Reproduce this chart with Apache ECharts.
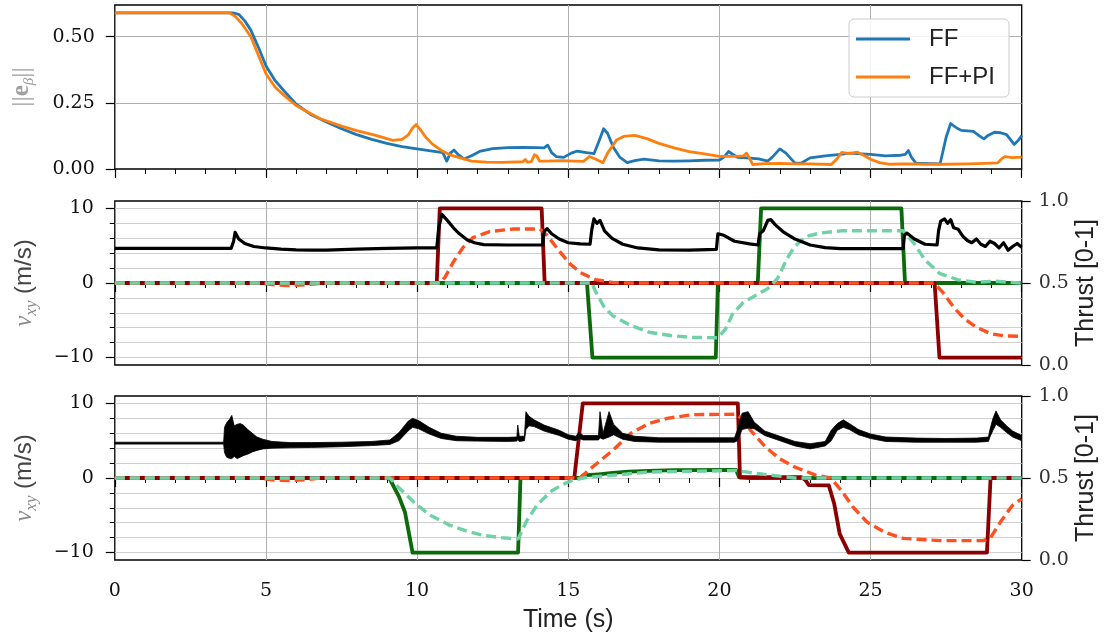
<!DOCTYPE html>
<html><head><meta charset="utf-8">
<script src="https://cdn.jsdelivr.net/npm/echarts@6/dist/echarts.min.js"></script>
<style>html,body{margin:0;padding:0;background:#fff}#c{width:1110px;height:641px}</style>
</head><body><div id="c"></div>
<script>
// ---------------- DATA ----------------
const xTicks = [0, 5, 10, 15, 20, 25, 30];
const topYTicks = [0, 0.25, 0.5];
const velTicks = [-10, 0, 10];
const thrustTicks = [0, 0.5, 1];
const legendNames = ['FF', 'FF+PI'];

// top panel ||e_beta||
const ffErr = [[0,0.59],[3.9,0.59],[4.1,0.585],[4.3,0.56],[4.5,0.525],[4.75,0.46],[5.0,0.39],[5.3,0.335],[5.6,0.295],[6.0,0.245],[6.5,0.205],[7.0,0.178],[7.5,0.152],[8.0,0.13],[8.5,0.112],[9.0,0.097],[9.5,0.085],[10.0,0.076],[10.5,0.068],[10.85,0.062],[10.98,0.03],[11.1,0.06],[11.22,0.072],[11.35,0.055],[11.55,0.038],[11.8,0.05],[12.1,0.068],[12.5,0.077],[13.0,0.081],[13.5,0.082],[14.0,0.081],[14.2,0.08],[14.32,0.09],[14.45,0.062],[14.6,0.047],[14.85,0.044],[15.1,0.06],[15.3,0.068],[15.6,0.062],[15.85,0.058],[16.0,0.1],[16.17,0.152],[16.3,0.135],[16.5,0.08],[16.7,0.045],[16.95,0.024],[17.2,0.032],[17.5,0.037],[18.0,0.031],[18.5,0.03],[19.0,0.031],[19.5,0.033],[20.0,0.034],[20.15,0.045],[20.3,0.066],[20.45,0.055],[20.6,0.044],[20.9,0.042],[21.3,0.038],[21.6,0.03],[21.75,0.045],[22.0,0.076],[22.2,0.06],[22.5,0.022],[22.7,0.022],[23.0,0.042],[23.5,0.05],[24.0,0.055],[24.3,0.06],[24.7,0.057],[25.0,0.055],[25.5,0.05],[26.0,0.052],[26.15,0.055],[26.25,0.07],[26.35,0.045],[26.5,0.022],[27.0,0.02],[27.3,0.019],[27.5,0.12],[27.65,0.172],[27.85,0.155],[28.0,0.146],[28.2,0.144],[28.4,0.142],[28.6,0.125],[28.75,0.114],[28.9,0.128],[29.1,0.139],[29.3,0.137],[29.5,0.13],[29.75,0.093],[29.9,0.11],[30.0,0.127]];
const ffpiErr = [[0,0.59],[3.8,0.59],[4.0,0.575],[4.2,0.55],[4.5,0.5],[4.75,0.43],[5.0,0.36],[5.3,0.31],[5.6,0.278],[6.0,0.24],[6.3,0.22],[6.8,0.19],[7.5,0.162],[8.0,0.145],[8.6,0.128],[9.2,0.108],[9.5,0.112],[9.7,0.128],[9.85,0.155],[9.97,0.168],[10.1,0.15],[10.3,0.118],[10.5,0.095],[10.8,0.07],[11.1,0.053],[11.4,0.043],[11.8,0.03],[12.3,0.026],[12.8,0.025],[13.3,0.027],[13.5,0.027],[13.58,0.036],[13.65,0.026],[13.78,0.028],[13.88,0.054],[13.95,0.05],[14.05,0.03],[14.3,0.03],[14.8,0.032],[15.2,0.03],[15.5,0.029],[15.7,0.047],[15.9,0.038],[16.15,0.024],[16.3,0.06],[16.45,0.085],[16.6,0.11],[16.83,0.123],[17.2,0.127],[17.6,0.115],[18.0,0.097],[18.5,0.08],[19.0,0.066],[19.5,0.057],[20.0,0.048],[20.5,0.048],[20.8,0.05],[20.9,0.06],[21.0,0.04],[21.1,0.017],[21.5,0.02],[22.0,0.021],[22.5,0.019],[23.0,0.019],[23.7,0.017],[23.9,0.04],[24.05,0.063],[24.3,0.058],[24.55,0.064],[24.8,0.05],[25.0,0.037],[25.3,0.024],[25.6,0.018],[26.2,0.019],[26.8,0.018],[27.5,0.018],[28.2,0.019],[28.8,0.021],[29.2,0.023],[29.35,0.04],[29.45,0.047],[29.7,0.043],[30.0,0.045]];

// middle panel
const midBlack = [[0,4.65],[3.85,4.65],[3.93,5.6],[3.98,6.8],[4.1,5.9],[4.3,5.3],[4.6,4.9],[5.0,4.7],[5.5,4.55],[6.0,4.45],[6.5,4.4],[7.0,4.4],[8.0,4.55],[9.0,4.65],[10.0,4.7],[10.65,4.7],[10.72,7.5],[10.82,9.2],[11.0,8.4],[11.2,7.4],[11.4,6.6],[11.65,5.8],[11.9,5.4],[12.2,5.15],[13.0,5.1],[14.16,5.1],[14.2,6.9],[14.3,7.3],[14.45,6.6],[14.7,5.9],[15.0,5.4],[15.4,5.25],[15.72,5.2],[15.78,7.2],[15.85,8.6],[15.95,8.0],[16.05,8.4],[16.2,7.0],[16.45,6.0],[16.8,5.2],[17.3,4.7],[18.0,4.45],[19.0,4.4],[19.9,4.5],[19.95,6.6],[20.15,6.4],[20.5,5.6],[21.0,5.25],[21.28,5.1],[21.33,6.6],[21.45,7.0],[21.6,8.4],[21.7,8.5],[21.85,7.8],[22.1,6.9],[22.5,5.9],[23.0,5.1],[23.5,4.75],[24.0,4.6],[25.0,4.6],[26.08,4.6],[26.12,6.4],[26.2,6.7],[26.45,5.9],[26.8,5.2],[27.2,5.1],[27.25,7.0],[27.32,8.3],[27.45,8.6],[27.55,8.0],[27.65,8.5],[27.75,7.4],[27.9,7.2],[28.05,6.3],[28.2,5.7],[28.35,5.4],[28.5,5.9],[28.65,5.2],[28.8,4.9],[28.95,5.6],[29.1,5.3],[29.25,4.7],[29.4,5.4],[29.55,4.4],[29.7,4.9],[29.85,5.3],[30.0,4.8]];
const midCmdX = [[0,0],[10.65,0],[10.75,10],[14.12,10],[14.22,0],[27.12,0],[27.28,-10],[30,-10]];
const midCmdY = [[0,0],[15.62,0],[15.8,-10],[19.88,-10],[19.95,0],[21.27,0],[21.38,10],[26.02,10],[26.14,0],[30,0]];
const midVelX = [[0,0],[4.8,0],[5.2,-0.2],[5.7,-0.35],[6.3,-0.25],[6.8,-0.05],[7.2,0],[10.75,0],[10.92,0.75],[11.19,2.76],[11.52,4.78],[11.85,6.1],[12.4,6.9],[13.18,7.25],[14.06,7.25],[14.3,6.4],[14.7,4.3],[15.05,2.6],[15.4,1.4],[15.9,0.45],[16.5,0.05],[17,0],[27.1,0],[27.4,-1.3],[27.76,-3.3],[28.12,-4.85],[28.49,-5.9],[28.97,-6.8],[29.45,-7.1],[30,-7.15]];
const midVelY = [[0,0],[15.8,0],[15.87,-0.9],[16.17,-3.1],[16.47,-4.4],[17.07,-5.7],[17.67,-6.6],[18.39,-7.05],[19.11,-7.3],[19.95,-7.35],[20.2,-6.2],[20.43,-4.2],[20.79,-2.6],[21.27,-1.5],[21.63,-0.66],[21.93,0.66],[22.24,3.3],[22.48,4.85],[22.84,6.2],[23.32,6.7],[24.04,7.0],[26.08,7.0],[26.44,5.3],[26.8,3.1],[27.28,1.3],[27.88,0.44],[28.49,0.1],[29.09,0.25],[29.6,0.1],[30,0]];

// bottom panel (black trace is noisy: [t, lower, upper])
const botBlackBand = [[0,4.55,4.8],[3.6,4.55,4.8],[3.63,3.4,6.8],[3.7,2.8,7.4],[3.8,2.6,7.9],[3.87,2.6,8.4],[3.95,2.9,7.0],[4.05,2.6,7.2],[4.15,2.8,7.3],[4.25,3.0,7.1],[4.4,3.2,6.5],[4.55,3.5,6.0],[4.7,3.7,5.5],[4.9,3.9,5.2],[5.2,4.0,4.9],[5.8,4.05,4.75],[6.5,4.1,4.75],[7.5,4.2,4.8],[8.5,4.35,4.9],[9.1,4.5,5.1],[9.4,5.0,6.1],[9.7,6.3,7.6],[9.85,6.8,8.0],[10.05,6.6,7.7],[10.4,5.9,6.8],[10.8,5.3,6.0],[11.3,5.0,5.6],[12.0,4.95,5.45],[13.0,4.9,5.45],[13.3,4.95,5.5],[13.33,5.2,7.1],[13.38,4.9,5.6],[13.55,5.0,5.6],[13.6,6.5,8.9],[13.7,7.0,8.3],[13.87,6.9,7.8],[14.2,6.3,7.1],[14.7,5.7,6.4],[15.0,5.2,5.8],[15.25,5.0,5.6],[15.35,5.3,6.1],[15.5,5.1,5.7],[16.0,5.1,5.7],[16.05,5.4,8.9],[16.15,5.2,6.0],[16.35,5.5,8.9],[16.5,5.8,7.2],[16.8,5.2,6.0],[17.2,4.9,5.6],[18,4.8,5.4],[19,4.8,5.4],[20.5,4.8,5.4],[20.6,5.0,6.5],[20.75,6.5,8.7],[20.95,6.7,8.9],[21.15,6.6,7.5],[21.5,5.7,6.3],[22.0,5.0,5.6],[22.5,4.3,4.9],[23.0,3.9,4.6],[23.5,4.3,4.9],[23.7,5.0,6.4],[23.9,6.4,7.3],[24.1,6.8,7.8],[24.3,6.5,7.3],[24.6,5.8,6.5],[25.0,5.3,5.9],[25.5,4.9,5.5],[26.5,4.8,5.35],[27.5,4.8,5.3],[28.5,4.8,5.35],[28.9,4.9,5.5],[28.95,5.5,6.5],[29.05,6.4,8.0],[29.15,7.2,9.0],[29.3,6.8,7.8],[29.5,6.1,7.0],[29.7,5.5,6.3],[30,5.0,5.7]];
const botCmdX = [[0,0],[15.2,0],[15.48,10],[20.61,10],[20.68,0.1],[22.72,0.1],[22.85,-0.3],[22.96,-0.95],[23.62,-1.0],[23.8,-3.5],[23.98,-7.5],[24.28,-10],[28.85,-10],[28.97,0],[30,0]];
const botCmdY = [[0,0],[9.08,0],[9.4,-2.5],[9.6,-4.6],[9.85,-10],[13.34,-10],[13.42,0],[15.4,0],[15.5,0.35],[16.0,0.5],[16.47,0.68],[17.0,0.85],[17.67,0.95],[18.5,1.05],[20.55,1.1],[20.65,0.1],[21,0],[30,0]];
const botVelX = [[0,0],[4.8,0],[5.2,-0.25],[5.8,-0.35],[6.4,-0.2],[6.8,0],[15.38,0],[15.87,1.7],[16.47,3.7],[17.07,6.0],[17.67,7.3],[18.27,8.0],[19.11,8.5],[20.55,8.55],[20.8,7.8],[21.03,6.4],[21.51,4.2],[21.99,2.6],[22.48,1.5],[23.2,0.36],[23.68,0],[24.04,-1.7],[24.4,-3.8],[24.88,-5.9],[25.48,-7.3],[26.08,-8.1],[27.28,-8.4],[28.73,-8.4],[28.97,-8.0],[29.33,-5.7],[29.69,-3.7],[30,-2.8]];
const botVelY = [[0,0],[9.1,0],[9.37,-1.2],[9.96,-3.5],[10.44,-5.0],[11.03,-6.25],[11.62,-7.1],[12.2,-7.7],[12.8,-8.0],[13.34,-8.2],[13.63,-5.7],[13.99,-3.5],[14.46,-1.7],[14.8,-0.9],[15.14,-0.3],[15.63,0.1],[16.47,0.36],[17.67,0.8],[20.55,1.0],[21.27,0.6],[22.48,0],[30,0]];

// ---------------- LAYOUT / STYLE ----------------
const SERIF = 'DejaVu Serif';
const SANS = 'Liberation Sans';
const TICKFS = 19;
const L = 114.8, W = 906.9, H = 164;
const TOPS = [5, 201, 396];
const C = {ff:'#1f77b4', ffpi:'#ff7f0e', red:'#8b0000', green:'#0b6b0b', orange:'#ff5020', lgreen:'#6fd1a6', black:'#000'};

const fmtMinus = v => (v < 0 ? '\u2212' + Math.abs(v) : String(v));

const grids = [];
TOPS.forEach(t => grids.push({left:L, width:W, top:t, height:H, show:true, borderColor:'#000', borderWidth:1.3, containLabel:false, outerBoundsMode:'none'}));
const topMaxVal = 0.62;
grids.push({left:L, width:W, top:TOPS[0] + H*(topMaxVal-0.5)/topMaxVal, height:H*0.5/topMaxVal, show:false, outerBoundsMode:'none'});
grids.push({left:L, width:W, top:TOPS[1] + H/22, height:H*20/22, show:false, outerBoundsMode:'none'});
grids.push({left:L, width:W, top:TOPS[2] + H/22, height:H*20/22, show:false, outerBoundsMode:'none'});

const tickStyle = {color:'#000', width:1.2};
const xAxes = [0,1,2].map(i => ({
  type:'value', gridIndex:i, min:xTicks[0], max:xTicks[xTicks.length-1], interval:xTicks[1]-xTicks[0],
  axisLine:{show:false},
  axisTick:{show:true, length:9, lineStyle:tickStyle},
  minorTick:{show:true, splitNumber:5, length:5, lineStyle:{color:'#000', width:1}},
  axisLabel:{show:i===2, margin:22, fontFamily:SERIF, fontSize:TICKFS, color:'#111'},
  splitLine:{show:true, showMinLine:false, showMaxLine:false, lineStyle:{color:'#b0b0b0', width:1}},
  name: i===2 ? 'Time (s)' : '', nameLocation:'middle', nameGap:48, nameMoveOverlap:false,
  nameTextStyle:{fontFamily:SANS, fontSize:25, color:'#222'}
}));
[3,4,5].forEach(i => xAxes.push({type:'value', gridIndex:i, min:0, max:30, show:false}));

const labelName = (name, rich, gap) => ({name, nameLocation:'middle', nameRotate:90, nameGap:gap, nameMoveOverlap:false, nameTextStyle:{rich}});
const velRich = {
  v:{fontFamily:'Liberation Serif', fontStyle:'italic', fontSize:25, color:'#8a8a8a', lineHeight:30, verticalAlign:'middle'},
  s:{fontFamily:'Liberation Serif', fontStyle:'italic', fontSize:17, color:'#8a8a8a', lineHeight:14, verticalAlign:'bottom'},
  u:{fontFamily:SANS, fontSize:24, color:'#444', lineHeight:30, verticalAlign:'middle'}
};
const errRich = {
  n:{fontFamily:'Liberation Serif', fontSize:26, color:'#a0a0a0', lineHeight:30, verticalAlign:'middle'},
  e:{fontFamily:'Liberation Serif', fontWeight:'bold', fontSize:25, color:'#a0a0a0', lineHeight:30, verticalAlign:'middle'},
  b:{fontFamily:'Liberation Serif', fontStyle:'italic', fontSize:15, color:'#a0a0a0', lineHeight:14, verticalAlign:'bottom'}
};
const hiddenMain = (gi, min, max, nameOpt) => Object.assign({
  type:'value', gridIndex:gi, min, max, position:'left',
  axisLine:{show:false}, axisTick:{show:false}, axisLabel:{show:false}, splitLine:{show:false}
}, nameOpt || {});
const thrustAxis = gi => ({
  type:'value', gridIndex:gi, min:thrustTicks[0], max:thrustTicks[2], interval:thrustTicks[1]-thrustTicks[0], position:'right',
  axisLine:{show:false}, axisTick:{show:true, length:9, lineStyle:tickStyle},
  axisLabel:{margin:17, fontFamily:SERIF, fontSize:TICKFS, color:'#333', formatter:v => v.toFixed(1)},
  splitLine:{show:false},
  name:'Thrust [0-1]', nameLocation:'middle', nameRotate:90, nameGap:52, nameMoveOverlap:false,
  nameTextStyle:{fontFamily:SANS, fontSize:25, color:'#222'}
});
const velTickAxis = gi => ({
  type:'value', gridIndex:gi, min:velTicks[0], max:velTicks[2], interval:velTicks[1]-velTicks[0], position:'left',
  axisLine:{show:false}, axisTick:{show:true, length:9, lineStyle:tickStyle},
  minorTick:{show:true, splitNumber:5, length:5, lineStyle:{color:'#000', width:1}},
  axisLabel:{margin:21, fontFamily:SERIF, fontSize:TICKFS, color:'#111', formatter:fmtMinus},
  splitLine:{show:true, lineStyle:{color:'#cfcfcf', width:1}},
  minorSplitLine:{show:true, lineStyle:{color:'#cfcfcf', width:1}}
});
const yAxes = [
  hiddenMain(0, 0, topMaxVal, labelName('{n|||}{e|e}{b|\u03b2}{n|||}', errRich, 78)),   // 0
  hiddenMain(1, -11, 11, labelName('{v|v}{s|xy}{u| (m/s)}', velRich, 75)),           // 1
  thrustAxis(1),                                                                        // 2
  hiddenMain(2, -11, 11, labelName('{v|v}{s|xy}{u| (m/s)}', velRich, 75)),           // 3
  thrustAxis(2),                                                                        // 4
  { type:'value', gridIndex:3, min:topYTicks[0], max:topYTicks[2], interval:topYTicks[1]-topYTicks[0], position:'left',
    axisLine:{show:false}, axisTick:{show:true, length:9, lineStyle:tickStyle},
    axisLabel:{margin:20, fontFamily:SERIF, fontSize:TICKFS, color:'#111', formatter:v => v.toFixed(2)},
    splitLine:{show:true, showMinLine:false, lineStyle:{color:'#b0b0b0', width:1}} },   // 5
  velTickAxis(4),                                                                       // 6
  velTickAxis(5)                                                                        // 7
];

const line = (name, data, xi, yi, color, width, z, extra) => Object.assign({
  name, type:'line', data, xAxisIndex:xi, yAxisIndex:yi, showSymbol:false, symbol:'none', z,
  lineStyle:{color, width, cap:'butt', join:'round'}, itemStyle:{color}, silent:true, animation:false
}, extra || {});
const dashed = (data, xi, yi, color, z) => line('', data, xi, yi, color, 3.4, z, {lineStyle:{color, width:3.4, type:[10,5], cap:'butt'}});

// noisy black trace of the bottom panel drawn as a filled band via the axis scales
const bandSeries = {
  type:'custom', xAxisIndex:2, yAxisIndex:3, z:7, silent:true, clip:true, animation:false,
  data:[[0, 0]],
  renderItem:(params, api) => {
    const upper = botBlackBand.map(d => api.coord([d[0], d[2]]));
    const lower = botBlackBand.slice().reverse().map(d => api.coord([d[0], d[1]]));
    return {type:'polygon', shape:{points: upper.concat(lower)}, style:{fill:'#000', stroke:'#000', lineWidth:0.8, lineJoin:'round'}};
  }
};

const series = [
  line('FF', ffErr, 0, 0, C.ff, 2.8, 3),
  line('FF+PI', ffpiErr, 0, 0, C.ffpi, 2.8, 4),
  // middle
  line('', midCmdY, 1, 1, C.green, 3.8, 3),
  line('', midCmdX, 1, 1, C.red, 3.8, 4),
  dashed(midVelX, 1, 1, C.orange, 5),
  dashed(midVelY, 1, 1, C.lgreen, 6),
  line('', midBlack, 1, 1, C.black, 3.2, 7),
  // bottom
  line('', botCmdY, 2, 3, C.green, 3.8, 3),
  line('', botCmdX, 2, 3, C.red, 3.8, 4),
  dashed(botVelX, 2, 3, C.orange, 5),
  dashed(botVelY, 2, 3, C.lgreen, 6),
  bandSeries
];

const option = {
  animation:false,
  backgroundColor:'#fff',
  grid: grids,
  xAxis: xAxes,
  yAxis: yAxes,
  legend: {
    data: legendNames, orient:'vertical', left:849, top:19, icon:'rect', itemWidth:54, itemHeight:3.2, itemGap:14,
    padding:[8, 14, 8, 7], borderColor:'#cccccc', borderWidth:1, borderRadius:5, backgroundColor:'rgba(255,255,255,0.85)',
    textStyle:{fontFamily:SANS, fontSize:24, color:'#222', padding:[0,0,0,14]}, selectedMode:false
  },
  series
};
const chart = echarts.init(document.getElementById('c'), null, {renderer:'canvas'});
chart.setOption(option);
</script></body></html>
